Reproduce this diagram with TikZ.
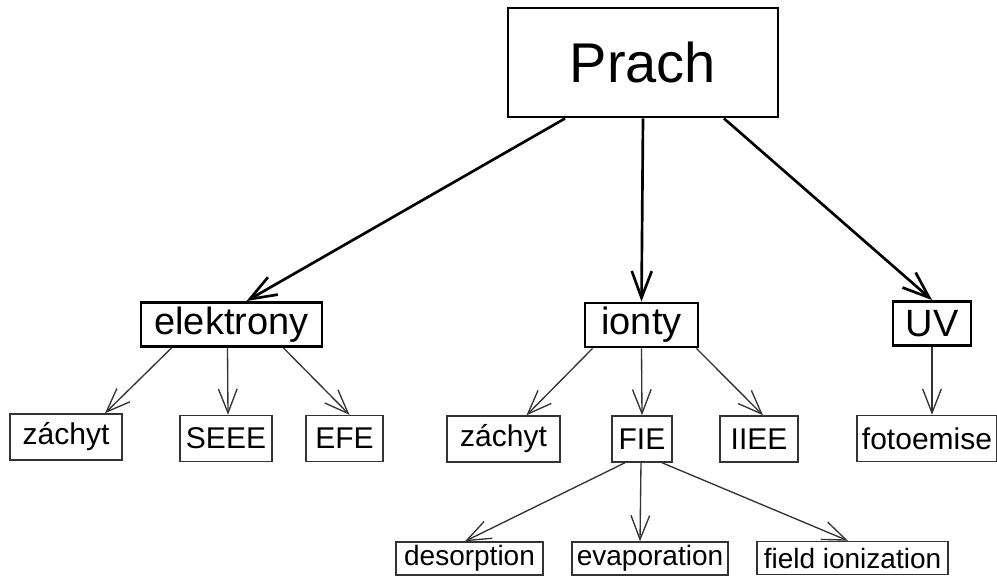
\documentclass[tikz,border=0pt]{standalone}
\usepackage{fontspec}
\setmainfont{Liberation Sans}
\usepackage{tikz}
\usetikzlibrary{arrows.meta, positioning, calc}
\tikzset{
  pr/root/.style={rectangle, draw=black, fill=white, line width=2.2pt,
    minimum width=202.5pt, minimum height=81.75pt, inner sep=0pt,
    font=\fontsize{42}{44}\selectfont},
  pr/group/.style={rectangle, draw=black, fill=white, line width=2.2pt,
    minimum height=33pt, inner sep=0pt,
    font=\fontsize{28.5}{30}\selectfont},
  pr/leaf/.style={rectangle, draw=black!80, fill=white, line width=1.1pt,
    minimum height=34.5pt, inner sep=0pt,
    font=\fontsize{22.5}{24}\selectfont},
  pr/sub/.style={rectangle, draw=black!80, fill=white, line width=1.1pt,
    minimum height=24.75pt, inner sep=0pt,
    font=\fontsize{21}{22}\selectfont},
  pr/arr/.style={-{Straight Barb[length=20pt,width=15pt]}, line width=2pt,
    draw=black},
  pr/arrthin/.style={-{Straight Barb[length=18pt,width=14pt]}, line width=1pt,
    draw=black!80}
}

\begin{document}
\begin{tikzpicture}[x=0.75pt, y=-0.75pt]
  \useasboundingbox (0,0) rectangle (997,576);

  \node[pr/root] (prach) at (643,62.5) {Prach};

  \node[pr/group, minimum width=135.75pt] (elek) at (231.5,324.5) {elektrony};
  \node[pr/group, minimum width=84.75pt] (ion) at (641.5,325) {ionty};
  \node[pr/group, minimum width=58.5pt] (uv) at (932,323.5) {UV};

  \node[pr/leaf, minimum width=84pt] (ezach) at (66,437) {záchyt};
  \node[pr/leaf, minimum width=69pt] (seee) at (226,438.5) {SEEE};
  \node[pr/leaf, minimum width=57.75pt] (efe) at (344.5,438.5) {EFE};
  \node[pr/leaf, minimum width=84.75pt] (izach) at (503.5,439) {záchyt};
  \node[pr/leaf, minimum width=45pt] (fie) at (642,439) {FIE};
  \node[pr/leaf, minimum width=58.5pt] (iiee) at (759,439) {IIEE};
  \node[pr/leaf, minimum width=105pt] (foto) at (927,438.5) {fotoemise};

  \node[pr/sub, minimum width=110.25pt] (desorp) at (469.5,558.5) {desorption};
  \node[pr/sub, minimum width=117pt] (evap) at (650,558.5) {evaporation};
  \node[pr/sub, minimum width=143.25pt] (fion) at (852.5,558) {field ionization};

  % Prach -> skupiny
  \draw[pr/arr] ($(prach.south)+(-78,0)$) -- ($(elek.north)+(15,0)$);
  \draw[pr/arr] (prach.south) -- (ion.north);
  \draw[pr/arr] ($(prach.south)+(81,0)$) -- (uv.north);

  % elektrony
  \draw[pr/arrthin] ($(elek.south)+(-60,0)$) -- ($(ezach.north)+(39,0)$);
  \draw[pr/arrthin] ($(elek.south)+(-4,0)$) -- ($(seee.north)+(2,0)$);
  \draw[pr/arrthin] ($(elek.south)+(52,0)$) -- ($(efe.north)+(5,0)$);

  % ionty
  \draw[pr/arrthin] ($(ion.south)+(-49,0)$) -- ($(izach.north)+(23,0)$);
  \draw[pr/arrthin] (ion.south) -- (fie.north);
  \draw[pr/arrthin] ($(ion.south)+(55,0)$) -- ($(iiee.north)+(4,0)$);

  % UV
  \draw[pr/arrthin] (uv.south) -- ($(foto.north)+(5,0)$);

  % FIE
  \draw[pr/arrthin] ($(fie.south)+(-17,0)$) -- ($(desorp.north)+(-4.5,0)$);
  \draw[pr/arrthin] ($(fie.south)+(-1,0)$) -- ($(evap.north)+(-10,0)$);
  \draw[pr/arrthin] ($(fie.south)+(20,0)$) -- ($(fion.north)+(-4.5,0)$);
\end{tikzpicture}
\end{document}
